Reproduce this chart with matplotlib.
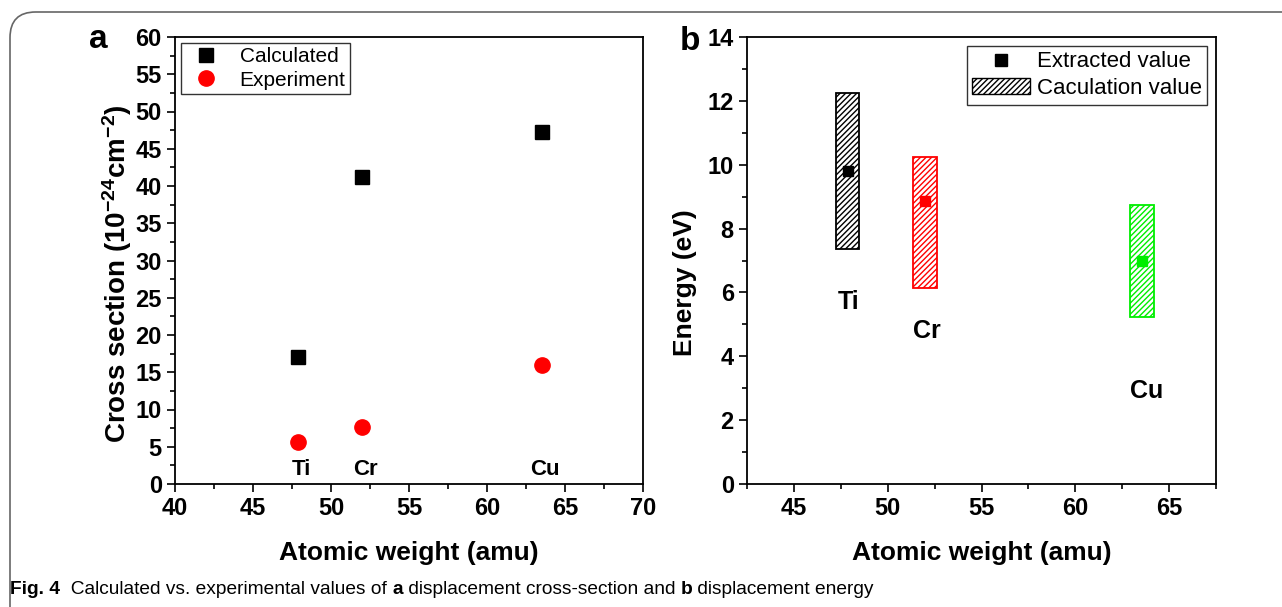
import matplotlib

matplotlib.use("Agg")
import matplotlib.pyplot as plt
from matplotlib.patches import FancyBboxPatch, Patch
from matplotlib.lines import Line2D
from matplotlib.ticker import MultipleLocator

# data
elements = ["Ti", "Cr", "Cu"]
atomic_weight = [47.87, 52.0, 63.55]
cross_calculated = [17.0, 41.2, 47.3]
cross_experiment = [5.6, 7.7, 16.0]
energy_extracted = [9.8, 8.87, 6.99]
energy_low = [7.35, 6.15, 5.24]
energy_high = [12.25, 10.25, 8.75]
element_colors = ["black", "#ff0000", "#00ee00"]

# where the element names sit in each panel (x, y in data units)
label_pos_a = [(48.1, 1.9), (52.2, 1.9), (63.7, 1.9)]
label_pos_b = [(47.9, 5.7), (52.1, 4.8), (63.8, 2.9)]

plt.rcParams["font.family"] = ["Liberation Sans", "DejaVu Sans"]
plt.rcParams["mathtext.fontset"] = "custom"
plt.rcParams["mathtext.rm"] = "Liberation Sans:bold"
plt.rcParams["mathtext.bf"] = "Liberation Sans:bold"
plt.rcParams["mathtext.default"] = "bf"
plt.rcParams["hatch.linewidth"] = 1.0


def _style(ax):
    ax.tick_params(which="both", direction="out", width=1.2, labelsize=17,
                   top=False, right=False)
    ax.tick_params(which="major", length=6)
    ax.tick_params(which="minor", length=3.5)
    for lab in ax.get_xticklabels() + ax.get_yticklabels():
        lab.set_fontweight("bold")
    for sp in ax.spines.values():
        sp.set_linewidth(1.3)


fig = plt.figure(figsize=(12.82, 6.07), dpi=100)
W, H = 1282, 607

# panel a
ax1 = fig.add_axes([175 / W, 1 - 484 / H, 468 / W, 447 / H])
ax1.plot(atomic_weight, cross_calculated, "s", color="black", ms=10,
         linestyle="none", label="Calculated")
ax1.plot(atomic_weight, cross_experiment, "o", color="#ff0000", ms=11,
         linestyle="none", label="Experiment")
ax1.set_xlim(40, 70)
ax1.set_ylim(0, 60)
ax1.xaxis.set_major_locator(MultipleLocator(5))
ax1.xaxis.set_minor_locator(MultipleLocator(2.5))
ax1.yaxis.set_major_locator(MultipleLocator(5))
ax1.yaxis.set_minor_locator(MultipleLocator(2.5))
for name, (x, y) in zip(elements, label_pos_a):
    ax1.text(x, y, name, ha="center", va="center", fontsize=16, fontweight="bold")
ax1.set_xlabel("Atomic weight (amu)", fontsize=19, fontweight="bold")
ax1.xaxis.set_label_coords(0.5, -0.128)
ax1.set_ylabel("Cross section (10$^{-24}$cm$^{-2}$)", fontsize=20,
               fontweight="bold")
ax1.yaxis.set_label_coords(-0.088, 0.47)
leg1 = ax1.legend(loc="upper left", fontsize=15, frameon=True, fancybox=False,
                  edgecolor="black", borderaxespad=0.3, handletextpad=0.6,
                  borderpad=0.2, labelspacing=0.2)
leg1.get_frame().set_linewidth(1.0)
_style(ax1)

# panel b
ax2 = fig.add_axes([747 / W, 1 - 484 / H, 469 / W, 447 / H])
heights = [h - l for h, l in zip(energy_high, energy_low)]
ax2.bar(atomic_weight, heights, bottom=energy_low, width=1.25, fill=False,
        edgecolor=element_colors, hatch="//////", linewidth=1.3)
for x, y, c in zip(atomic_weight, energy_extracted, element_colors):
    ax2.plot(x, y, "s", color=c, ms=7)
ax2.set_xlim(42.5, 67.5)
ax2.set_ylim(0, 14)
ax2.xaxis.set_major_locator(MultipleLocator(5))
ax2.xaxis.set_minor_locator(MultipleLocator(2.5))
ax2.yaxis.set_major_locator(MultipleLocator(2))
ax2.yaxis.set_minor_locator(MultipleLocator(1))
for name, (x, y) in zip(elements, label_pos_b):
    ax2.text(x, y, name, ha="center", va="center", fontsize=18, fontweight="bold")
ax2.set_xlabel("Atomic weight (amu)", fontsize=19, fontweight="bold")
ax2.xaxis.set_label_coords(0.5, -0.128)
ax2.set_ylabel("Energy (eV)", fontsize=19, fontweight="bold")
ax2.yaxis.set_label_coords(-0.107, 0.45)
handles = [
    Line2D([], [], marker="s", color="black", ls="none", ms=8),
    Patch(facecolor="white", edgecolor="black", hatch="//////", linewidth=1.0),
]
leg2 = ax2.legend(handles, ["Extracted value", "Caculation value"],
                  loc="upper right", fontsize=16, frameon=True, fancybox=False,
                  edgecolor="black", borderaxespad=0.4, handletextpad=0.3,
                  borderpad=0.25, labelspacing=0.25, handlelength=2.6)
leg2.get_frame().set_linewidth(1.0)
_style(ax2)

fig.text(98 / W, 1 - 40 / H, "a", fontsize=24, fontweight="bold",
         ha="center", va="center")
fig.text(690 / W, 1 - 42 / H, "b", fontsize=24, fontweight="bold",
         ha="center", va="center")

# rounded frame around the figure
frame = FancyBboxPatch((10 / W, -0.2), 1.5, 0.2 + 1 - 12 / H,
                       boxstyle="round,pad=0,rounding_size=0.02",
                       transform=fig.transFigure, fill=False,
                       edgecolor="#666666", linewidth=1.2, mutation_aspect=W / H)
fig.add_artist(frame)

# caption made of normal and bold pieces
caption = [("Fig. 4", "bold"), ("  Calculated vs. experimental values of ", "normal"),
           ("a", "bold"), (" displacement cross-section and ", "normal"),
           ("b", "bold"), (" displacement energy", "normal")]
renderer = fig.canvas.get_renderer()
xpos = 10 / W
for txt, wt in caption:
    t = fig.text(xpos, 1 - 590 / H, txt, fontsize=13.8, fontweight=wt,
                 va="center", ha="left")
    bb = t.get_window_extent(renderer)
    xpos += bb.width / W

fig.savefig("out.png", dpi=100)
